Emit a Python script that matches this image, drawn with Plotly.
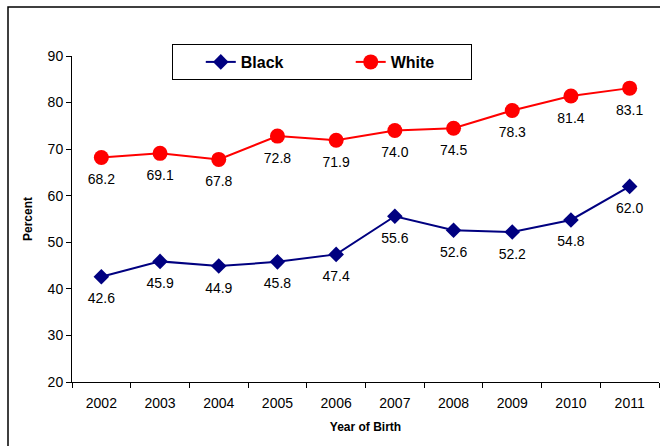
import plotly.graph_objects as go

years = ["2002", "2003", "2004", "2005", "2006", "2007", "2008", "2009", "2010", "2011"]
black = [42.6, 45.9, 44.9, 45.8, 47.4, 55.6, 52.6, 52.2, 54.8, 62.0]
white = [68.2, 69.1, 67.8, 72.8, 71.9, 74.0, 74.5, 78.3, 81.4, 83.1]

FONT = "Liberation Sans, Arial, sans-serif"
NB = "\u00a0"

fig = go.Figure()
fig.add_trace(go.Scatter(
    x=years, y=black, name="Black" + NB * 14, mode="lines+markers",
    line=dict(color="#000080", width=2),
    marker=dict(symbol="diamond", size=12, color="#000080"),
))
fig.add_trace(go.Scatter(
    x=years, y=white, name="White" + NB * 7, mode="lines+markers",
    line=dict(color="#FF0000", width=2),
    marker=dict(symbol="circle", size=15, color="#FF0000"),
))

# value labels under each point (transparent spacer markers set the gap)
for vals in (black, white):
    fig.add_trace(go.Scatter(
        x=years, y=vals, mode="markers+text", showlegend=False, hoverinfo="skip",
        marker=dict(size=24, color="rgba(0,0,0,0)"),
        text=[f"{v:.1f}" for v in vals], textposition="bottom center",
        textfont=dict(size=14, color="black", family=FONT),
    ))

# outer chart frame (extends past the right/bottom edges)
fig.add_shape(type="rect", xref="paper", yref="paper",
              x0=(8 - 72) / 587, x1=1.2, y0=-0.4, y1=(382 - 7) / 326,
              line=dict(color="black", width=1.5), layer="below")

fig.update_layout(
    width=660, height=446,
    margin=dict(l=72, r=1, t=56, b=64),
    paper_bgcolor="white", plot_bgcolor="white",
    font=dict(family=FONT, size=14, color="black"),
    showlegend=True,
    legend=dict(
        orientation="h", x=(172 - 72) / 587, y=(382 - 44) / 326,
        xanchor="left", yanchor="top",
        bordercolor="black", borderwidth=1,
        font=dict(size=16, family=FONT, color="black", weight="bold"),
        title=dict(text=NB * 4, side="left", font=dict(size=16)),
    ),
    xaxis=dict(
        type="category", showline=True, linecolor="black", linewidth=1,
        ticks="outside", ticklen=5, tickcolor="black", tickson="boundaries",
        ticklabelstandoff=8,
        showgrid=False, zeroline=False,
        title=dict(text="<b>Year of Birth</b>", font=dict(size=12), standoff=12),
        range=[-0.5, 9.5],
    ),
    yaxis=dict(
        range=[20, 90], dtick=10, showline=True, linecolor="black", linewidth=1,
        ticks="outside", ticklen=5, tickcolor="black",
        showgrid=False, zeroline=False,
        title=dict(text="<b>Percent</b>", font=dict(size=12), standoff=12),
    ),
)

fig.write_html("out.html")
